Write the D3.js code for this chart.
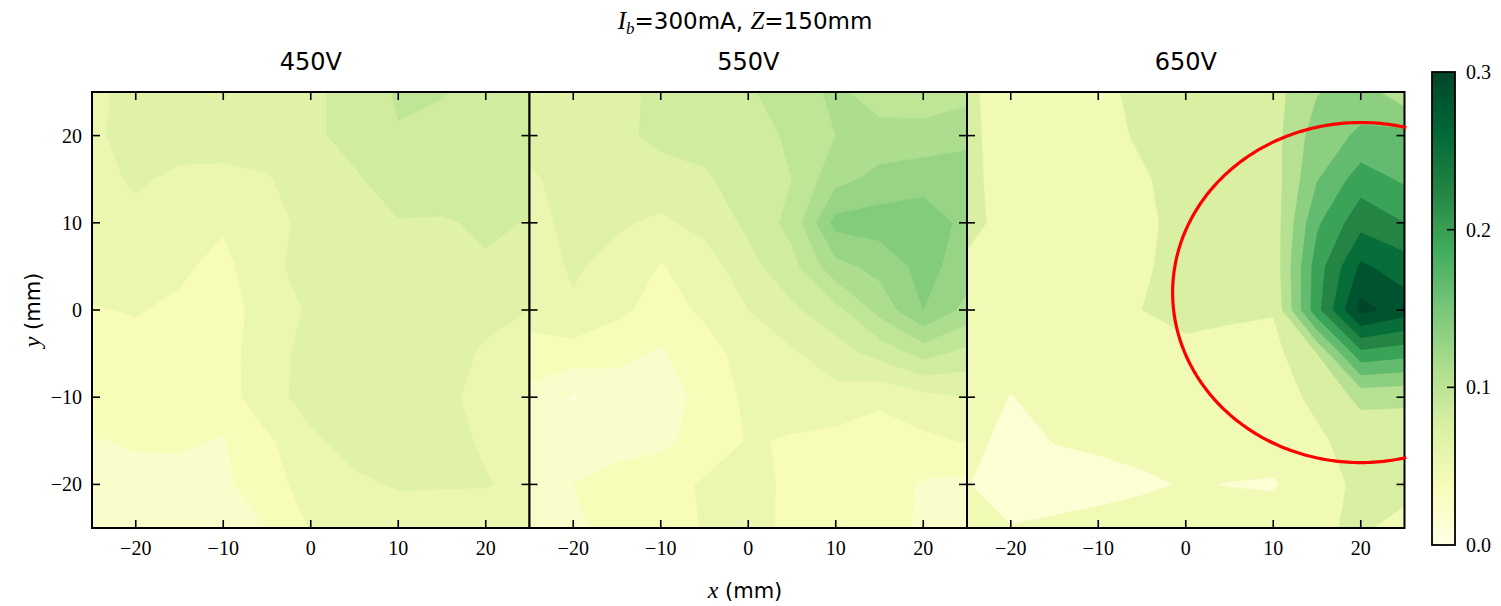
<!DOCTYPE html>
<html>
<head>
<meta charset="utf-8">
<script src="https://cdn.jsdelivr.net/npm/d3@7"></script>
<style>
  body { margin: 0; background: #fff; }
  svg { display: block; }
</style>
</head>
<body>
<svg id="chart" width="1501" height="606"></svg>
<script>
// Measurement grid (mm): columns are x, rows are y from top (25) to bottom (-25)
const xs = [-25, -20, -15, -10, -5, 0, 5, 10, 15, 20, 25];
const ys = [25, 20, 15, 10, 5, 0, -5, -10, -15, -20, -25];

// Measured intensity at 450 V
const field450 = [
  [0.055, 0.067, 0.068, 0.069, 0.070, 0.072, 0.080, 0.092, 0.091, 0.085, 0.084],
  [0.057, 0.066, 0.066, 0.065, 0.066, 0.072, 0.080, 0.089, 0.085, 0.084, 0.083],
  [0.055, 0.062, 0.057, 0.057, 0.059, 0.066, 0.073, 0.083, 0.086, 0.087, 0.085],
  [0.054, 0.056, 0.056, 0.047, 0.055, 0.064, 0.070, 0.074, 0.073, 0.078, 0.074],
  [0.052, 0.053, 0.048, 0.040, 0.058, 0.063, 0.066, 0.068, 0.072, 0.073, 0.068],
  [0.044, 0.046, 0.042, 0.038, 0.052, 0.062, 0.066, 0.066, 0.067, 0.064, 0.060],
  [0.040, 0.040, 0.039, 0.038, 0.055, 0.064, 0.066, 0.067, 0.066, 0.058, 0.055],
  [0.038, 0.037, 0.036, 0.037, 0.056, 0.064, 0.066, 0.066, 0.063, 0.056, 0.054],
  [0.029, 0.032, 0.032, 0.029, 0.042, 0.058, 0.064, 0.066, 0.065, 0.058, 0.053],
  [0.025, 0.024, 0.025, 0.027, 0.040, 0.050, 0.058, 0.061, 0.061, 0.061, 0.056],
  [0.022, 0.022, 0.024, 0.026, 0.030, 0.046, 0.052, 0.054, 0.052, 0.048, 0.044]
];

// Measured intensity at 550 V
const field550 = [
  [0.065, 0.066, 0.070, 0.079, 0.082, 0.088, 0.098, 0.108, 0.098, 0.094, 0.100],
  [0.064, 0.066, 0.072, 0.078, 0.080, 0.085, 0.092, 0.105, 0.110, 0.112, 0.115],
  [0.058, 0.065, 0.068, 0.070, 0.073, 0.082, 0.090, 0.115, 0.125, 0.128, 0.130],
  [0.055, 0.064, 0.062, 0.057, 0.065, 0.078, 0.095, 0.140, 0.142, 0.145, 0.130],
  [0.052, 0.062, 0.055, 0.044, 0.052, 0.070, 0.085, 0.115, 0.125, 0.140, 0.128],
  [0.050, 0.058, 0.048, 0.040, 0.047, 0.060, 0.072, 0.085, 0.110, 0.135, 0.115],
  [0.040, 0.038, 0.035, 0.028, 0.040, 0.050, 0.058, 0.068, 0.080, 0.095, 0.085],
  [0.025, 0.014, 0.020, 0.022, 0.035, 0.048, 0.050, 0.055, 0.048, 0.055, 0.060],
  [0.025, 0.022, 0.025, 0.027, 0.035, 0.046, 0.044, 0.040, 0.038, 0.042, 0.046],
  [0.028, 0.030, 0.035, 0.038, 0.047, 0.050, 0.042, 0.040, 0.038, 0.028, 0.026],
  [0.026, 0.028, 0.034, 0.038, 0.046, 0.048, 0.043, 0.040, 0.036, 0.028, 0.026]
];

// Measured intensity at 650 V
const field650 = [
  [0.064, 0.050, 0.052, 0.052, 0.068, 0.070, 0.070, 0.078, 0.118, 0.135, 0.100],
  [0.065, 0.050, 0.050, 0.050, 0.064, 0.070, 0.072, 0.078, 0.135, 0.155, 0.160],
  [0.066, 0.050, 0.050, 0.050, 0.057, 0.070, 0.072, 0.075, 0.148, 0.195, 0.175],
  [0.068, 0.050, 0.050, 0.050, 0.055, 0.068, 0.070, 0.072, 0.175, 0.230, 0.210],
  [0.055, 0.050, 0.048, 0.048, 0.057, 0.068, 0.070, 0.070, 0.195, 0.275, 0.255],
  [0.050, 0.048, 0.046, 0.046, 0.060, 0.066, 0.065, 0.062, 0.200, 0.310, 0.285],
  [0.048, 0.046, 0.045, 0.045, 0.048, 0.055, 0.050, 0.050, 0.090, 0.200, 0.190],
  [0.045, 0.029, 0.040, 0.045, 0.045, 0.047, 0.048, 0.050, 0.065, 0.098, 0.095],
  [0.040, 0.020, 0.031, 0.035, 0.040, 0.042, 0.045, 0.045, 0.056, 0.070, 0.075],
  [0.031, 0.018, 0.018, 0.020, 0.025, 0.032, 0.029, 0.027, 0.050, 0.065, 0.065],
  [0.035, 0.031, 0.035, 0.040, 0.045, 0.045, 0.045, 0.045, 0.058, 0.062, 0.055]
];

const fields = [field450, field550, field650];
const panelTitles = ["450V", "550V", "650V"];
const xTicks = [-20, -10, 0, 10, 20];
const yTicks = [-20, -10, 0, 10, 20];
const cbTicks = [0.0, 0.1, 0.2, 0.3];
// contour levels of each map
const levelsFine = [0, 0.015, 0.03, 0.045, 0.06, 0.075, 0.09, 0.105, 0.12, 0.135, 0.15,
                    0.165, 0.18, 0.195, 0.21, 0.225, 0.24, 0.255, 0.27, 0.285, 0.3];
const levelsCoarse = [0, 0.03, 0.06, 0.09, 0.12, 0.15, 0.18, 0.21, 0.24, 0.27, 0.3, 0.33];
const panelLevels = [levelsFine, levelsFine, levelsCoarse];
const ylgnStops = ["#ffffe5", "#f7fcb9", "#d9f0a3", "#addd8e", "#78c679",
                   "#41ab5d", "#238443", "#006837", "#004529"];
// Beam footprint marked on the 650 V map (mm, degrees)
const beamArc = { cx: 20, cy: 2, rx: 21.5, ry: 19.5, start: 76, end: 284 };

// ---- layout ----
const svg = d3.select("#chart");
const left0 = 92, panelW = 437.5, plotTop = 92, plotBottom = 528;
const plotH = plotBottom - plotTop;
const vmin = 0, vmax = 0.3;

const cmap = d3.scaleLinear()
  .domain(ylgnStops.map((_, i) => i / (ylgnStops.length - 1)))
  .range(ylgnStops)
  .interpolate(d3.interpolateRgb)
  .clamp(true);
const norm = v => (v - vmin) / (vmax - vmin);

const x = d3.scaleLinear().domain([-25, 25]).range([0, panelW]);
const y = d3.scaleLinear().domain([-25, 25]).range([plotH, 0]);

// grid index space (sample i sits at i + 0.5) -> data coordinates
const nx = xs.length, ny = ys.length;
const gx = d3.scaleLinear().domain([0.5, nx - 0.5]).range([xs[0], xs[nx - 1]]);
const gy = d3.scaleLinear().domain([0.5, ny - 0.5]).range([ys[0], ys[ny - 1]]);
const path = d3.geoPath(d3.geoTransform({
  point(px, py) { this.stream.point(x(gx(px)), y(gy(py))); }
}));

const serif = "'Liberation Serif', 'DejaVu Serif', serif";
const sans = "'DejaVu Sans', sans-serif";
const fmt = d => (d < 0 ? "\u2212" + Math.abs(d) : String(d));

fields.forEach((field, p) => {
  const lv = panelLevels[p];
  const bandColor = i => cmap(norm((lv[i] + lv[i + 1]) / 2));
  const g = svg.append("g").attr("transform", `translate(${left0 + p * panelW},${plotTop})`);
  const clipId = "clip" + p;
  g.append("clipPath").attr("id", clipId)
    .append("rect").attr("width", panelW).attr("height", plotH);

  const bands = d3.contours().size([nx, ny]).thresholds(lv.slice(0, -1))(field.flat());
  g.append("g").attr("clip-path", `url(#${clipId})`)
    .selectAll("path").data(bands).join("path")
    .attr("d", path)
    .attr("fill", (d, i) => bandColor(i))
    .attr("stroke", (d, i) => bandColor(i))
    .attr("stroke-width", 0.4);

  // inward ticks on all four sides
  const tk = 8;
  const ticks = g.append("g").attr("stroke", "#000").attr("stroke-width", 1.6);
  xTicks.forEach(t => {
    ticks.append("line").attr("x1", x(t)).attr("x2", x(t)).attr("y1", plotH).attr("y2", plotH - tk);
    ticks.append("line").attr("x1", x(t)).attr("x2", x(t)).attr("y1", 0).attr("y2", tk);
  });
  yTicks.forEach(t => {
    ticks.append("line").attr("x1", 0).attr("x2", tk).attr("y1", y(t)).attr("y2", y(t));
    ticks.append("line").attr("x1", panelW).attr("x2", panelW - tk).attr("y1", y(t)).attr("y2", y(t));
  });
  g.append("rect").attr("width", panelW).attr("height", plotH)
    .attr("fill", "none").attr("stroke", "#000").attr("stroke-width", 2);

  // x tick labels
  g.append("g").selectAll("text").data(xTicks).join("text")
    .attr("x", d => x(d)).attr("y", plotH + 27)
    .attr("text-anchor", "middle")
    .attr("font-family", serif).attr("font-size", 20)
    .text(fmt);

  if (p === 0) {
    g.append("g").selectAll("text").data(yTicks).join("text")
      .attr("x", -10).attr("y", d => y(d) + 7)
      .attr("text-anchor", "end")
      .attr("font-family", serif).attr("font-size", 20)
      .text(fmt);
  }

  g.append("text")
    .attr("x", panelW / 2).attr("y", -22)
    .attr("text-anchor", "middle")
    .attr("font-family", sans).attr("font-size", 24)
    .text(panelTitles[p]);

  if (p === 2) {
    const angles = d3.range(beamArc.start, beamArc.end + 0.5, 1);
    const line = d3.line()
      .x(a => x(beamArc.cx + beamArc.rx * Math.cos(a * Math.PI / 180)))
      .y(a => y(beamArc.cy + beamArc.ry * Math.sin(a * Math.PI / 180)));
    g.append("path").attr("d", line(angles))
      .attr("fill", "none").attr("stroke", "#ff0000").attr("stroke-width", 3.2);
  }
});

// ---- title ----
const title = svg.append("text")
  .attr("x", 745).attr("y", 29)
  .attr("text-anchor", "middle")
  .attr("font-family", sans).attr("font-size", 23);
title.append("tspan").attr("font-family", serif).attr("font-style", "italic").attr("font-size", 25).text("I");
title.append("tspan").attr("font-family", serif).attr("font-style", "italic").attr("font-size", 17).attr("dy", 5).text("b");
title.append("tspan").attr("dy", -5).text("=300mA, ");
title.append("tspan").attr("font-family", serif).attr("font-style", "italic").attr("font-size", 25).text("Z");
title.append("tspan").text("=150mm");

// ---- axis labels ----
const xl = svg.append("text")
  .attr("x", 745).attr("y", 598)
  .attr("text-anchor", "middle")
  .attr("font-family", sans).attr("font-size", 21);
xl.append("tspan").attr("font-family", serif).attr("font-style", "italic").attr("font-size", 24).text("x");
xl.append("tspan").text(" (mm)");

const yl = svg.append("text")
  .attr("transform", "translate(40,310) rotate(-90)")
  .attr("text-anchor", "middle")
  .attr("font-family", sans).attr("font-size", 21);
yl.append("tspan").attr("font-family", serif).attr("font-style", "italic").attr("font-size", 24).text("y");
yl.append("tspan").text(" (mm)");

// ---- colorbar ----
const cbX = 1432, cbW = 23, cbTop = 72, cbBottom = 545;
const cbY = d3.scaleLinear().domain([vmin, vmax]).range([cbBottom, cbTop]);
const grad = svg.append("defs").append("linearGradient")
  .attr("id", "cbgrad").attr("x1", 0).attr("y1", 1).attr("x2", 0).attr("y2", 0);
ylgnStops.forEach((c, i) => {
  grad.append("stop").attr("offset", i / (ylgnStops.length - 1)).attr("stop-color", c);
});
svg.append("rect").attr("x", cbX).attr("y", cbTop)
  .attr("width", cbW).attr("height", cbBottom - cbTop)
  .attr("fill", "url(#cbgrad)");
svg.append("g").attr("stroke", "#000").attr("stroke-width", 1.6)
  .selectAll("line").data(cbTicks.slice(1, -1)).join("line")
  .attr("x1", cbX + cbW).attr("x2", cbX + cbW - 8)
  .attr("y1", d => cbY(d)).attr("y2", d => cbY(d));
svg.append("rect").attr("x", cbX).attr("y", cbTop)
  .attr("width", cbW).attr("height", cbBottom - cbTop)
  .attr("fill", "none").attr("stroke", "#000").attr("stroke-width", 1.8);
svg.append("g").selectAll("text").data(cbTicks).join("text")
  .attr("x", cbX + cbW + 11).attr("y", d => cbY(d) + 7)
  .attr("font-family", serif).attr("font-size", 20)
  .text(d => d.toFixed(1));
</script>
</body>
</html>
